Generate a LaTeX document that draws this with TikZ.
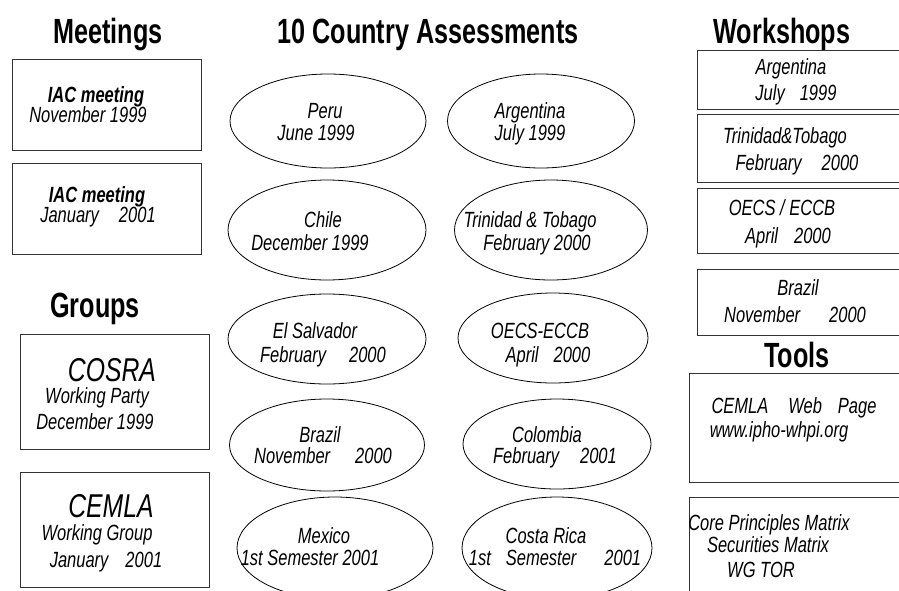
\documentclass[tikz,border=0pt]{standalone}
\usepackage{fontspec}
\setmainfont{Liberation Sans}
\newfontfamily\nf{Liberation Sans}[FakeStretch=0.75]
\newfontfamily\tf{Liberation Sans}[FakeStretch=0.72]
\usetikzlibrary{shapes.geometric}
\tikzset{
 bx/.style={draw=black!80, line width=1pt, rectangle, inner sep=0pt},
 el/.style={draw=black, line width=0.8pt, ellipse, inner sep=0pt},
 ln/.style={anchor=base, inner sep=0pt, font=\nf\itshape\fontsize{22}{22}\selectfont},
 lnb/.style={ln, font=\nf\bfseries\itshape\fontsize{22}{22}\selectfont},
 bigln/.style={ln, font=\nf\itshape\fontsize{33}{33}\selectfont},
 ttl/.style={anchor=base, inner sep=0pt, font=\tf\bfseries\fontsize{35}{35}\selectfont},
}
\begin{document}
\begin{tikzpicture}[x=1pt,y=-1pt]
\useasboundingbox (0,0) rectangle (899,590);
\clip (0,0) rectangle (899,590);
% titles
\node[ttl] (hMeet) at (108,43) {Meetings};
\node[ttl] (hCA) at (428,43) {10 Country Assessments};
\node[ttl] (hWork) at (782,43) {Workshops};
\node[ttl] (hGroups) at (95,317) {Groups};
\node[ttl] (hTools) at (797,367) {Tools};
% meetings
\node[bx, minimum width=189, minimum height=91] (m1) at (106.5,104.5) {};
\node[bx, minimum width=189, minimum height=91] (m2) at (106.5,208.5) {};
\node[lnb] (m1a) at (96,102) {IAC meeting};
\node[ln] (m1b) at (88,122) {November 1999};
\node[lnb] (m2a) at (97,202) {IAC meeting};
\node[ln] (m2b) at (98,222) {January\hspace{20pt}2001};
% groups
\node[bx, minimum width=189, minimum height=115] (g1) at (114.5,391.5) {};
\node[bx, minimum width=189, minimum height=115] (g2) at (114.5,529.5) {};
\node[bigln] (g1a) at (112,381) {COSRA};
\node[ln] (g1b) at (97,403) {Working Party};
\node[ln] (g1c) at (95,429) {December 1999};
\node[bigln] (g2a) at (111,517) {CEMLA};
\node[ln] (g2b) at (97,540) {Working Group};
\node[ln] (g2c) at (106,567) {January\hspace{17pt}2001};
% country assessments
\node[el, minimum width=196, minimum height=94] (e1) at (328,121) {};
\node[el, minimum width=187, minimum height=94] (e2) at (541,121) {};
\node[el, minimum width=198, minimum height=100] (e3) at (327,230) {};
\node[el, minimum width=193, minimum height=100] (e4) at (551,230) {};
\node[el, minimum width=198, minimum height=90] (e5) at (327,339) {};
\node[el, minimum width=190, minimum height=90] (e6) at (553,338) {};
\node[el, minimum width=195, minimum height=92] (e7) at (327,445) {};
\node[el, minimum width=188, minimum height=90] (e8) at (557,444) {};
\node[el, minimum width=196, minimum height=102] (e9) at (335,548) {};
\node[el, minimum width=190, minimum height=102] (e10) at (557,548) {};
\node[ln] (e1a) at (325,118) {Peru};
\node[ln] (e1b) at (316,140) {June 1999};
\node[ln] (e2a) at (530,118) {Argentina};
\node[ln] (e2b) at (530,140) {July 1999};
\node[ln] (e3a) at (323,227) {Chile};
\node[ln] (e3b) at (310,250) {December 1999};
\node[ln] (e4a) at (530,227) {Trinidad \& Tobago};
\node[ln] (e4b) at (537,250) {February 2000};
\node[ln] (e5a) at (315,338) {El Salvador};
\node[ln] (e5b) at (323,362) {February\hspace{23pt}2000};
\node[ln] (e6a) at (540,338) {OECS-ECCB};
\node[ln] (e6b) at (548,362) {April\hspace{15pt}2000};
\node[ln] (e7a) at (320,442) {Brazil};
\node[ln] (e7b) at (323,463) {November\hspace{25pt}2000};
\node[ln] (e8a) at (547,442) {Colombia};
\node[ln] (e8b) at (555,463) {February\hspace{21pt}2001};
\node[ln] (e9a) at (324,543) {Mexico};
\node[ln] (e9b) at (310,565) {1st Semester 2001};
\node[ln] (e10a) at (546,543) {Costa Rica};
\node[ln] (e10b) at (555,565) {1st\hspace{15pt}Semester\hspace{28pt}2001};
% workshops
\node[bx, minimum width=233, minimum height=59] (w1) at (813.5,79.5) {};
\node[bx, minimum width=233, minimum height=68] (w2) at (813.5,148) {};
\node[bx, minimum width=233, minimum height=65] (w3) at (813.5,220.5) {};
\node[bx, minimum width=233, minimum height=66] (w4) at (813.5,302) {};
\node[ln] (w1a) at (791,74) {Argentina};
\node[ln] (w1b) at (796,100) {July\hspace{15pt}1999};
\node[ln] (w2a) at (785,143) {Trinidad\&Tobago};
\node[ln] (w2b) at (797,170) {February\hspace{20pt}2000};
\node[ln] (w3a) at (782,215) {OECS / ECCB};
\node[ln] (w3b) at (788,243) {April\hspace{16pt}2000};
\node[ln] (w4a) at (798,295) {Brazil};
\node[ln] (w4b) at (795,322) {November\hspace{29pt}2000};
% tools
\node[bx, minimum width=241, minimum height=109] (t1) at (809.5,427.5) {};
\node[bx, minimum width=241, minimum height=123] (t2) at (809.5,558.5) {};
\node[ln] (t1a) at (794,413) {CEMLA\hspace{20pt}Web\hspace{16pt}Page};
\node[ln] (t1b) at (779,437) {www.ipho-whpi.org};
\node[ln] (t2a) at (769,530) {Core Principles Matrix};
\node[ln] (t2b) at (768,552) {Securities Matrix};
\node[ln] (t2c) at (761,577) {WG TOR};
\end{tikzpicture}
\end{document}
